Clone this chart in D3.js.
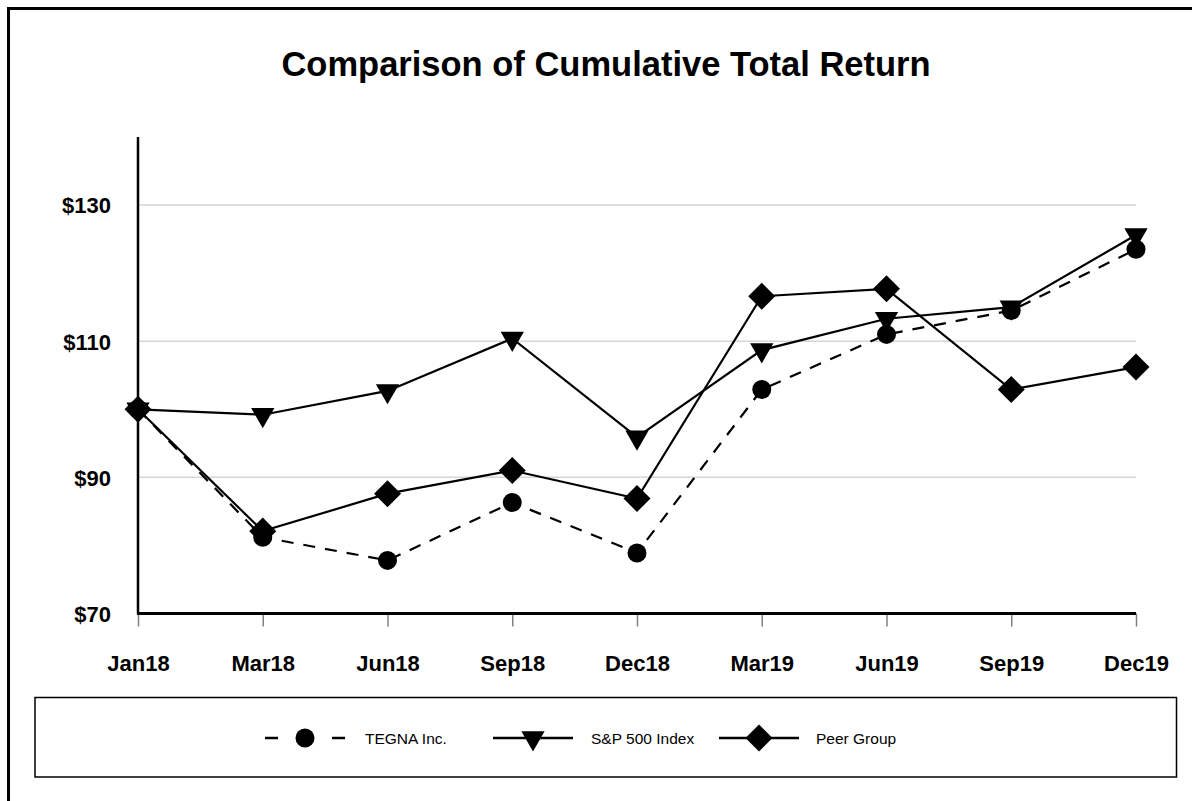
<!DOCTYPE html>
<html>
<head>
<meta charset="utf-8">
<script src="https://cdn.jsdelivr.net/npm/d3@7"></script>
<style>
  html, body { margin: 0; padding: 0; background: #fff; }
  svg { display: block; font-family: "Liberation Sans", Arial, Helvetica, sans-serif; }
</style>
</head>
<body>
<svg id="chart" width="1192" height="801"></svg>
<script>
const categories = ["Jan18","Mar18","Jun18","Sep18","Dec18","Mar19","Jun19","Sep19","Dec19"];
const tegna = [100, 81.2, 77.8, 86.3, 78.9, 102.9, 111.0, 114.5, 123.5];
const sp500 = [100, 99.2, 102.7, 110.4, 95.9, 108.7, 113.3, 115.0, 125.6];
const peer  = [100, 82.1, 87.6, 91.0, 86.9, 116.6, 117.7, 102.9, 106.2];
const yTicks = [70, 90, 110, 130];
const seriesNames = ["TEGNA Inc.", "S&P 500 Index", "Peer Group"];
const chartTitle = "Comparison of Cumulative Total Return";

(function () {
const svg = d3.select("#chart");
const W = 1192, H = 801;
const pLeft = 138, pRight = 1136, pTop = 137, pBottom = 613.5;

// outer frame (only top and left visible)
svg.append("path").attr("d", `M8.5,${H+5}V8.5H${W+5}`)
  .attr("fill", "none").attr("stroke", "#000").attr("stroke-width", 3);

svg.append("text").attr("x", 606).attr("y", 76).attr("text-anchor", "middle")
  .attr("font-size", 34.5).attr("font-weight", "bold").text(chartTitle);

const x = d3.scalePoint().domain(categories).range([pLeft, pRight]).padding(0);
const y = d3.scaleLinear().domain([70, 140]).range([pBottom, pTop]);

// gridlines
svg.append("g").selectAll("line").data(yTicks.filter(t => t !== 70)).join("line")
  .attr("x1", pLeft).attr("x2", pRight).attr("y1", d => y(d)).attr("y2", d => y(d))
  .attr("stroke", "#d6d6d6").attr("stroke-width", 1.5);

// y axis labels
const yAxis = svg.append("g").attr("transform", `translate(${pLeft},0)`)
  .call(d3.axisLeft(y).tickValues(yTicks).tickSize(0).tickPadding(27).tickFormat(d => "$" + d));
yAxis.select(".domain").remove();
yAxis.selectAll("text").attr("font-size", 22).attr("font-weight", "bold")
  .attr("font-family", "'Liberation Sans', Arial, sans-serif").attr("fill", "#000").attr("dy", "0.36em");

// x axis
const xAxis = svg.append("g").attr("transform", `translate(0,${pBottom})`)
  .call(d3.axisBottom(x).tickSize(13).tickPadding(37));
xAxis.select(".domain").remove();
xAxis.selectAll(".tick line").attr("stroke", "#808080").attr("stroke-width", 1.5);
xAxis.selectAll("text").attr("font-size", 22).attr("font-weight", "bold")
  .attr("font-family", "'Liberation Sans', Arial, sans-serif").attr("fill", "#000").attr("dy", "0.36em");

// axis lines
svg.append("line").attr("x1", pLeft).attr("x2", pLeft).attr("y1", pTop).attr("y2", pBottom)
  .attr("stroke", "#000").attr("stroke-width", 2.5);
svg.append("line").attr("x1", pLeft - 1).attr("x2", pRight).attr("y1", pBottom).attr("y2", pBottom)
  .attr("stroke", "#000").attr("stroke-width", 2.8);

const circleSym = d3.symbol().type(d3.symbolCircle).size(Math.PI * 9.5 * 9.5);
const triSym = d3.symbol().type(d3.symbolTriangle).size(235);
const diaSym = d3.symbol().type(d3.symbolSquare).size(365);

const series = [
  { name: seriesNames[0], values: tegna, dash: "12,10", sym: circleSym, rot: 0 },
  { name: seriesNames[1], values: sp500, dash: null, sym: triSym, rot: 180 },
  { name: seriesNames[2], values: peer, dash: null, sym: diaSym, rot: 45 }
];

const line = d3.line().x((d, i) => x(categories[i])).y(d => y(d));

series.forEach(s => {
  svg.append("path").datum(s.values).attr("d", line)
    .attr("fill", "none").attr("stroke", "#000").attr("stroke-width", 2.2)
    .attr("stroke-dasharray", s.dash);
});
series.forEach(s => {
  svg.append("g").selectAll("path").data(s.values).join("path")
    .attr("d", s.sym())
    .attr("transform", (d, i) => `translate(${x(categories[i])},${y(d)}) rotate(${s.rot})`)
    .attr("fill", "#000");
});

// legend
svg.append("rect").attr("x", 35).attr("y", 697.5).attr("width", 1141.5).attr("height", 79.5)
  .attr("fill", "none").attr("stroke", "#000").attr("stroke-width", 1.5);

const ly = 738;
const legendPos = [
  { x0: 265, x1: 345, cx: 305, tx: 365 },
  { x0: 493, x1: 573, cx: 533, tx: 591 },
  { x0: 719, x1: 799, cx: 759, tx: 816 }
];
series.forEach((s, i) => {
  const p = legendPos[i];
  const g = svg.append("g");
  if (s.dash) {
    g.append("line").attr("x1", p.x0).attr("x2", p.x0 + 13).attr("y1", ly).attr("y2", ly)
      .attr("stroke", "#000").attr("stroke-width", 2.5);
    g.append("line").attr("x1", p.x1 - 13).attr("x2", p.x1).attr("y1", ly).attr("y2", ly)
      .attr("stroke", "#000").attr("stroke-width", 2.5);
  } else {
    g.append("line").attr("x1", p.x0).attr("x2", p.x1).attr("y1", ly).attr("y2", ly)
      .attr("stroke", "#000").attr("stroke-width", 2.5);
  }
  g.append("path").attr("d", s.sym())
    .attr("transform", `translate(${p.cx},${ly}) rotate(${s.rot})`).attr("fill", "#000");
  g.append("text").attr("x", p.tx).attr("y", ly).attr("dy", "0.36em")
    .attr("font-size", 15.5).text(s.name);
});
})();
</script>
</body>
</html>
